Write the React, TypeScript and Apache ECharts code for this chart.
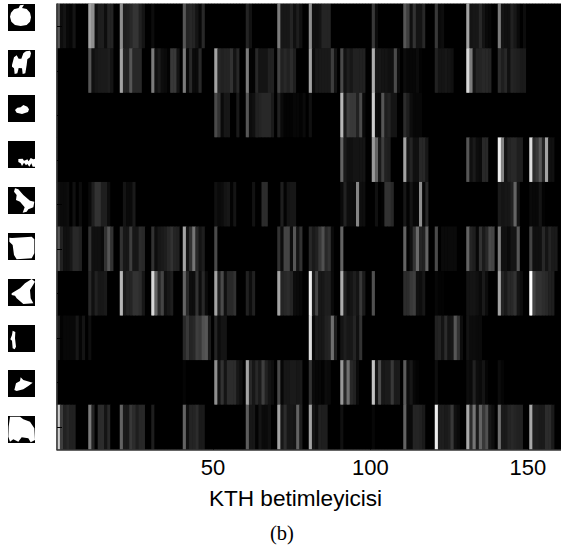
import React, { useEffect, useRef } from "react";
import * as echarts from "echarts";

const columns: string[] = Array.from({ length: 160 }, (_, i) => String(i + 1));
const rowNames = ["elma", "deve", "nesne3", "nesne4", "kurbaga", "kare", "nesne7", "insan", "nesne9", "nesne10"];
const xTickLabels = ["50", "100", "150"];
const xAxisTitle = "KTH betimleyicisi";
const caption = "(b)";

const row1 = [
  100,20,30,12,8,30,0,0,0,0, 170,150,25,45,45,20,55,55,0,0, 150,45,50,60,72,72,50,30,0,0, 18,0,0,0,0,0,0,0,0,0,
  100,55,60,55,30,10,60,0,0,0, 0,0,0,0,0,0,0,0,0,0, 55,28,0,0,0,0,0,0,0,0, 130,35,35,35,55,25,45,25,0,0,
  150,25,25,30,55,55,55,0,0,0, 0,0,0,0,0,0,0,0,0,0, 75,18,0,0,0,0,0,0,0,0, 100,80,25,70,30,30,60,0,0,0,
  75,15,20,0,0,0,0,0,0,0, 170,30,35,35,60,30,15,10,0,0, 130,30,25,25,50,35,15,0,18,0, 0,0,0,0,0,0,0,0,0,0,
];
const row2 = [
  0,0,0,0,0,0,0,0,0,0, 100,25,35,40,40,40,45,30,0,0, 170,55,55,100,60,60,60,0,0,0, 130,25,40,20,15,5,75,75,30,0,
  130,15,60,15,15,60,0,0,0,0, 170,60,50,55,55,70,30,60,0,0, 130,5,5,60,30,30,30,50,50,0, 85,50,60,50,65,45,0,0,0,0,
  170,18,38,38,38,38,38,80,30,0, 90,28,45,35,50,50,50,50,0,0, 180,35,35,30,30,25,25,90,20,0, 18,10,10,10,18,5,0,0,0,0,
  50,30,30,35,30,25,0,0,0,0, 220,130,30,55,55,60,60,55,0,0, 65,45,60,25,55,50,45,40,40,0, 0,0,0,0,0,0,0,0,0,0,
];
const row3 = [
  0,0,0,0,0,0,0,0,0,0, 0,0,0,0,0,0,0,0,0,0, 0,0,0,0,0,0,0,0,0,0, 0,0,0,0,0,0,0,0,0,0,
  0,0,0,0,0,0,0,0,0,0, 90,70,15,35,35,0,0,40,0,0, 100,18,25,50,55,60,60,60,40,0, 50,15,5,5,5,10,10,5,15,0,
  25,0,0,0,0,0,0,0,0,0, 190,40,80,75,75,50,90,15,0,0, 210,18,15,100,45,55,30,30,0,0, 65,45,20,10,10,10,0,0,0,0,
  0,0,0,0,0,0,0,0,0,0, 0,0,0,0,0,0,0,0,0,0, 0,0,0,0,0,0,0,0,0,0, 0,0,0,0,0,0,0,0,0,0,
];
const row4 = [
  0,0,0,0,0,0,0,0,0,0, 0,0,0,0,0,0,0,0,0,0, 0,0,0,0,0,0,0,0,0,0, 0,0,0,0,0,0,0,0,0,0,
  0,0,0,0,0,0,0,0,0,0, 0,0,0,0,0,0,0,0,0,0, 0,0,0,0,0,0,0,0,0,0, 0,0,0,0,0,0,0,0,0,0,
  0,0,0,0,0,0,0,0,0,0, 110,40,25,25,30,30,30,30,0,0, 160,110,40,80,50,45,0,0,0,0, 170,35,55,25,25,60,60,35,0,0,
  0,0,0,0,0,0,0,0,0,0, 100,25,40,20,15,60,60,0,0,0, 240,140,30,55,60,60,45,45,0,0, 225,65,75,100,55,170,25,25,0,0,
];
const row5 = [
  25,15,15,20,0,25,0,18,0,0, 15,45,70,70,45,45,20,0,0,0, 0,30,15,15,40,0,0,0,0,0, 0,0,0,0,0,0,0,0,0,0,
  0,0,0,0,0,0,0,0,0,0, 25,15,18,30,35,5,30,0,0,0, 0,0,28,0,0,65,65,0,0,0, 0,45,5,30,35,35,0,0,0,0,
  0,0,0,0,0,0,0,0,0,0, 15,50,20,20,18,140,22,22,0,0, 0,25,0,5,70,70,60,0,0,0, 35,5,30,10,10,150,10,60,0,0,
  0,0,0,0,0,0,0,0,0,0, 0,0,0,0,0,0,0,0,0,0, 40,30,35,35,50,110,30,0,0,0, 15,12,12,30,5,0,0,0,0,0,
];
const row6 = [
  100,50,25,25,35,60,60,50,0,0, 70,25,25,25,15,70,100,70,0,0, 70,35,35,80,35,35,65,60,0,0, 70,20,35,40,45,60,70,55,50,0,
  170,30,70,125,60,30,45,0,0,0, 90,0,0,0,0,0,0,0,0,0, 0,0,0,0,0,0,0,0,0,0, 70,20,85,85,20,100,30,70,0,0,
  60,40,50,75,95,60,70,15,0,0, 110,0,0,0,0,0,0,0,0,0, 0,0,0,0,0,0,0,0,0,0, 110,5,25,70,115,55,50,110,0,0,
  90,0,15,15,15,15,15,0,0,0, 110,55,45,10,70,40,60,90,85,0, 130,25,25,15,30,30,100,0,0,0, 85,25,25,25,60,30,55,40,40,0,
];
const row7 = [
  0,0,0,0,0,0,0,0,0,0, 60,25,50,35,35,40,0,0,0,0, 190,40,55,55,70,70,65,35,0,0, 220,110,60,85,25,35,45,0,0,0,
  110,60,20,20,70,20,60,15,0,0, 170,50,90,25,60,60,70,0,0,0, 50,20,50,0,0,0,0,0,0,0, 170,55,60,65,55,18,15,10,0,0,
  240,40,85,35,35,45,45,15,0,0, 180,50,25,30,45,30,75,40,0,0, 95,0,0,0,0,0,0,0,0,0, 65,65,75,80,25,20,35,0,0,0,
  10,5,5,0,0,0,0,0,0,0, 30,30,30,25,15,40,18,0,0,0, 170,55,40,60,60,70,30,18,0,0, 255,85,70,70,65,60,50,45,0,0,
];
const row8 = [
  45,5,12,12,12,12,35,8,30,0, 22,0,0,0,0,0,0,0,0,0, 0,0,0,0,0,0,0,0,0,0, 0,0,0,0,0,0,0,0,0,0,
  60,75,55,60,80,75,95,100,40,0, 55,18,30,30,0,0,0,0,0,0, 0,0,0,0,0,0,0,0,0,0, 0,0,0,0,0,0,0,0,0,0,
  225,10,40,35,35,50,55,120,45,0, 30,45,35,35,55,25,70,0,0,0, 0,0,0,0,0,0,0,0,0,0, 0,0,0,0,0,0,0,0,0,0,
  50,55,30,65,30,35,100,70,20,0, 30,18,18,15,15,0,0,0,0,0, 0,0,0,0,0,0,0,0,0,0, 0,0,0,0,0,0,0,0,0,0,
];
const row9 = [
  0,0,0,0,0,0,0,0,0,0, 0,0,0,0,0,0,0,0,0,0, 0,0,0,0,0,0,0,0,0,0, 0,0,0,0,0,0,0,0,0,0,
  8,0,0,0,0,0,0,0,0,0, 150,30,70,30,65,65,65,35,20,0, 170,60,35,60,40,80,50,30,20,0, 90,10,35,35,40,40,35,40,0,0,
  70,15,10,10,5,18,15,0,0,0, 160,60,120,60,50,15,0,0,0,0, 200,30,90,35,40,40,75,40,40,0, 105,18,35,10,5,0,0,0,0,0,
  20,0,0,0,0,0,0,0,0,0, 20,15,50,20,15,30,8,0,0,0, 18,8,0,0,0,0,0,0,0,0, 0,0,0,0,0,0,0,0,0,0,
];
const row10 = [
  210,80,50,60,50,50,0,0,0,0, 130,55,0,65,65,30,60,0,0,0, 110,40,40,75,65,45,60,60,0,0, 45,0,0,0,0,0,0,0,0,0,
  110,25,55,55,65,40,40,0,0,0, 0,0,0,0,0,0,0,0,0,0, 105,35,35,5,30,15,15,25,0,0, 170,35,65,35,35,30,110,45,0,0,
  170,30,18,50,45,45,0,0,0,0, 25,0,0,0,0,0,0,0,0,0, 10,0,0,0,0,0,0,0,0,0, 110,15,15,55,55,50,40,0,0,0,
  240,45,45,40,45,75,25,15,0,0, 175,65,125,40,110,75,95,35,20,0, 120,40,40,55,60,55,50,50,0,0, 175,45,45,40,40,65,65,40,0,0,
];
const rows = [row1, row2, row3, row4, row5, row6, row7, row8, row9, row10];

const cells: number[][] = [];
rows.forEach((r, y) => r.forEach((v, x) => cells.push([x, y, v])));

// Silhouette thumbnails, outlined in px*3 and placed on black tiles.
const iconTiles: { top: number; outline: number[][] }[] = [
  { top: 4, outline: [[30,50],[33,38],[42,28],[56,24],[60,16],[72,14],[66,24],[80,27],[90,38],[93,52],[90,65],[80,75],[62,78],[45,75],[34,65]] },
  { top: 50, outline: [[36,195],[42,172],[50,166],[56,176],[64,176],[70,160],[78,154],[90,152],[93,160],[90,172],[82,178],[80,195],[76,220],[68,222],[66,205],[56,204],[52,220],[44,222],[42,205],[36,200]] },
  { top: 95, outline: [[45,330],[52,323],[62,322],[70,315],[82,320],[87,328],[84,336],[66,342],[50,338]] },
  { top: 141, outline: [[55,477],[68,476],[72,482],[78,480],[82,478],[86,484],[92,474],[100,478],[105,476],[105,500],[98,500],[94,490],[88,500],[82,492],[78,496],[72,488],[66,498],[62,490],[55,486]] },
  { top: 187, outline: [[45,565],[55,568],[70,585],[90,602],[103,605],[100,622],[85,628],[80,635],[68,638],[74,622],[60,605],[48,600],[50,585],[42,575]] },
  { top: 233, outline: [[28,713],[36,714],[95,710],[103,718],[103,760],[95,775],[50,778],[42,765],[38,735],[28,725]] },
  { top: 279, outline: [[35,880],[60,865],[75,850],[95,837],[105,845],[90,870],[92,895],[100,910],[70,912],[50,895],[45,887],[35,885]] },
  { top: 325, outline: [[38,992],[46,996],[45,1015],[48,1040],[44,1048],[38,1045],[36,1022],[31,1018],[36,1005]] },
  { top: 370, outline: [[62,1132],[70,1140],[98,1148],[85,1158],[70,1168],[50,1173],[43,1170],[48,1150],[60,1143]] },
  { top: 416, outline: [[30,1250],[60,1250],[70,1258],[90,1265],[103,1285],[105,1320],[92,1327],[85,1315],[65,1312],[55,1325],[40,1318],[30,1325],[25,1310],[26,1280]] },
];

export default function App() {
  const ref = useRef<HTMLDivElement>(null);
  useEffect(() => {
    document.body.style.margin = "0";
    const chart = echarts.init(ref.current!, undefined, { renderer: "svg" });
    const graphics: any[] = [];
    iconTiles.forEach((t) => {
      graphics.push({ type: "rect", shape: { x: 8, y: t.top, width: 27, height: 27 }, style: { fill: "#000" } });
      graphics.push({
        type: "polygon",
        shape: { points: t.outline.map(([x, y]) => [x / 3, y / 3]) },
        style: { fill: "#fff" },
      });
    });
    graphics.push({
      type: "text", x: 295.5, y: 498,
      style: { text: xAxisTitle, fill: "#000", font: '22.6px "Liberation Sans"', textAlign: "center", textVerticalAlign: "middle" },
    });
    graphics.push({
      type: "text", x: 282, y: 533,
      style: { text: caption, fill: "#000", font: '20.5px "Liberation Serif"', textAlign: "center", textVerticalAlign: "middle" },
    });
    chart.setOption({
      animation: false,
      backgroundColor: "#fff",
      grid: { show: true, left: 57, top: 4, width: 507, height: 445.5, backgroundColor: "#000", borderColor: "#555", borderWidth: 1 },
      xAxis: {
        type: "category",
        data: columns,
        z: 5,
        splitLine: { show: false },
        axisLine: { show: true, lineStyle: { color: "#333", width: 1.5 } },
        axisTick: { show: true, inside: true, length: 5, alignWithLabel: true, interval: (i: number, v: string) => xTickLabels.includes(v), lineStyle: { color: "#000" } },
        axisLabel: { interval: (i: number, v: string) => xTickLabels.includes(v), margin: 7, fontFamily: "Liberation Sans", fontSize: 22, color: "#000" },
      },
      yAxis: {
        type: "category",
        data: rowNames,
        inverse: true,
        z: 5,
        splitLine: { show: false },
        axisLine: { show: true, lineStyle: { color: "#333", width: 1.5 } },
        axisTick: { show: true, inside: true, length: 5, alignWithLabel: true, lineStyle: { color: "#000" } },
        axisLabel: { show: false },
      },
      visualMap: { show: false, min: 0, max: 255, dimension: 2, inRange: { color: ["#000000", "#2a2a2a", "#787878", "#b8b8b8", "#ffffff"] } },
      series: [{ type: "heatmap", data: cells, progressive: 0, itemStyle: { borderWidth: 0 }, emphasis: { disabled: true } }],
      graphic: graphics,
    });
    return () => chart.dispose();
  }, []);
  return <div ref={ref} style={{ width: 561, height: 549, overflow: "hidden" }} />;
}
